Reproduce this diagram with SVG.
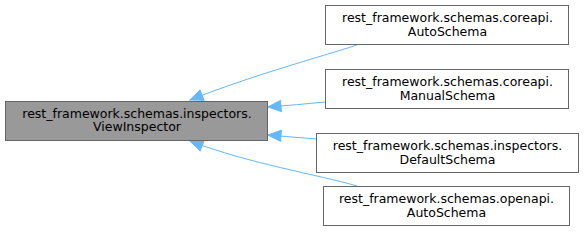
<svg xmlns="http://www.w3.org/2000/svg" width="584" height="243" viewBox="0 0 584 243">
  <style>
    .box { fill: #ffffff; stroke: #666666; stroke-width: 1; }
    .base { fill: #999999; stroke: #666666; stroke-width: 1; }
    .lbl { font-family: "DejaVu Sans", sans-serif; font-size: 12.5px; fill: #000000; text-anchor: middle; }
    .edge { fill: none; stroke: #63b8ff; stroke-width: 1; }
  </style>
  <defs>
    <marker id="arrow" markerUnits="userSpaceOnUse" markerWidth="16" markerHeight="14" refX="14" refY="7" orient="auto">
      <polygon points="1,1.5 14,7 1,12.5" fill="#63b8ff" stroke="#63b8ff" stroke-width="1"/>
    </marker>
  </defs>

  <!-- inheritance edges -->
  <g id="edges">
    <path class="edge" marker-end="url(#arrow)" d="M357,45 C320,57 250,76 190,100"/>
    <path class="edge" marker-end="url(#arrow)" d="M325,102 C306,104 287,105.5 268,107"/>
    <path class="edge" marker-end="url(#arrow)" d="M316,139 C300,138 284,136 268,135"/>
    <path class="edge" marker-end="url(#arrow)" d="M357,186 C320,175 250,164 190,141"/>
  </g>

  <g id="node_viewinspector">
    <rect class="base" x="5.5" y="101.5" width="262" height="39"/>
    <text class="lbl" x="137" y="117.5">rest_framework.schemas.inspectors.</text>
    <text class="lbl" x="137" y="131">ViewInspector</text>
  </g>

  <g id="node_coreapi_autoschema">
    <rect class="box" x="325.5" y="5.5" width="243" height="39"/>
    <text class="lbl" x="447.5" y="22">rest_framework.schemas.coreapi.</text>
    <text class="lbl" x="447.5" y="35.5">AutoSchema</text>
  </g>

  <g id="node_coreapi_manualschema">
    <rect class="box" x="325.5" y="69.5" width="243" height="39"/>
    <text class="lbl" x="447.5" y="86">rest_framework.schemas.coreapi.</text>
    <text class="lbl" x="447.5" y="99.5">ManualSchema</text>
  </g>

  <g id="node_inspectors_defaultschema">
    <rect class="box" x="316.5" y="133.5" width="262" height="39"/>
    <text class="lbl" x="447.5" y="150">rest_framework.schemas.inspectors.</text>
    <text class="lbl" x="447.5" y="163.5">DefaultSchema</text>
  </g>

  <g id="node_openapi_autoschema">
    <rect class="box" x="323.5" y="186.5" width="246" height="39"/>
    <text class="lbl" x="446.5" y="203">rest_framework.schemas.openapi.</text>
    <text class="lbl" x="446.5" y="216.5">AutoSchema</text>
  </g>
</svg>
